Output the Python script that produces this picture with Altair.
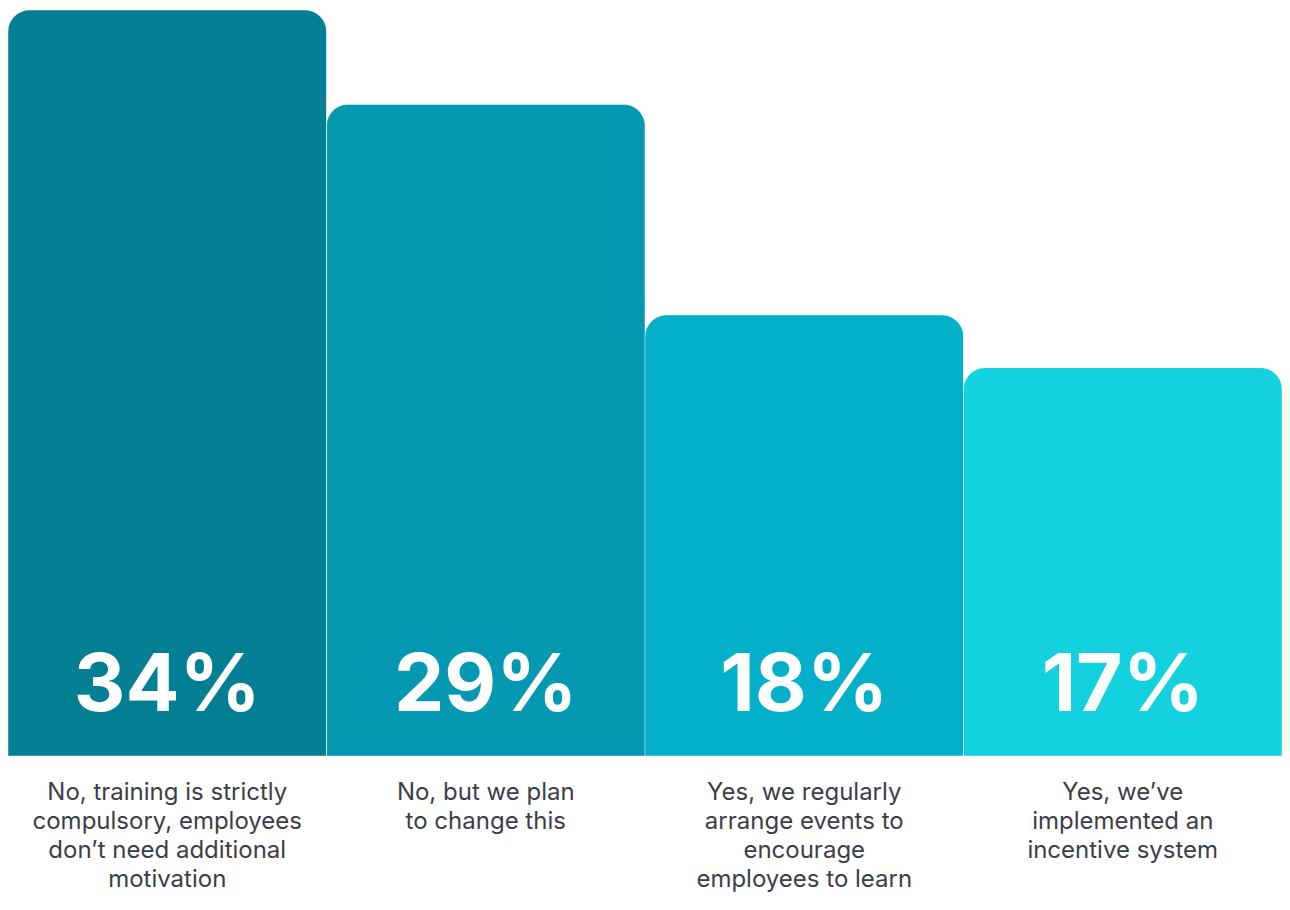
import altair as alt
import pandas as pd

categories = [
    "No, training is strictly|compulsory, employees|don’t need additional|motivation",
    "No, but we plan|to change this",
    "Yes, we regularly|arrange events to|encourage|employees to learn",
    "Yes, we’ve|implemented an|incentive system",
]
percent_values = [34, 29, 18, 17]
# bar heights as drawn in the reference (not strictly proportional to the percentages)
bar_heights = [34, 29.7, 20.1, 17.7]
bar_colors = ["#027F93", "#0598B2", "#04B0C9", "#14D1DF"]

df = pd.DataFrame({
    "category": categories,
    "percent": percent_values,
    "height": bar_heights,
    "label": [f"{v}%" for v in percent_values],
    "zero": [0] * len(categories),
})

y_scale = alt.Scale(domain=[0, 34], nice=False, zero=True)

x_enc = alt.X(
    "category:N",
    sort=categories,
    scale=alt.Scale(paddingInner=0, paddingOuter=0),
    axis=alt.Axis(
        title=None,
        domain=False,
        ticks=False,
        grid=False,
        labelAngle=0,
        labelExpr="split(datum.label, '|')",
        labelFont="Inter",
        labelFontSize=24,
        labelFontWeight=400,
        labelColor="#3D3D48",
        labelLineHeight=29,
        labelPadding=24,
        labelBaseline="top",
        labelLimit=400,
    ),
)

bars = alt.Chart(df).mark_bar(
    cornerRadiusTopLeft=22,
    cornerRadiusTopRight=22,
    stroke="white",
    strokeOpacity=0.25,
    strokeWidth=1,
).encode(
    x=x_enc,
    y=alt.Y("height:Q", scale=y_scale, axis=None),
    color=alt.Color("category:N", sort=categories,
                    scale=alt.Scale(domain=categories, range=bar_colors), legend=None),
)

labels = alt.Chart(df).mark_text(
    font="Inter",
    fontWeight="bold",
    fontSize=80,
    color="white",
    baseline="alphabetic",
    dy=-45,
).encode(
    x=alt.X("category:N", sort=categories),
    y=alt.Y("zero:Q", scale=y_scale, axis=None),
    text="label:N",
)

chart = alt.layer(bars, labels).properties(
    width=1274,
    height=746,
    padding={"top": 2, "bottom": 138, "left": 0, "right": 0},
    autosize=alt.AutoSizeParams(type="none"),
).configure(background="white").configure_view(stroke=None, strokeWidth=0)

chart.save("out.html", embed_options={"renderer": "svg", "actions": False})
